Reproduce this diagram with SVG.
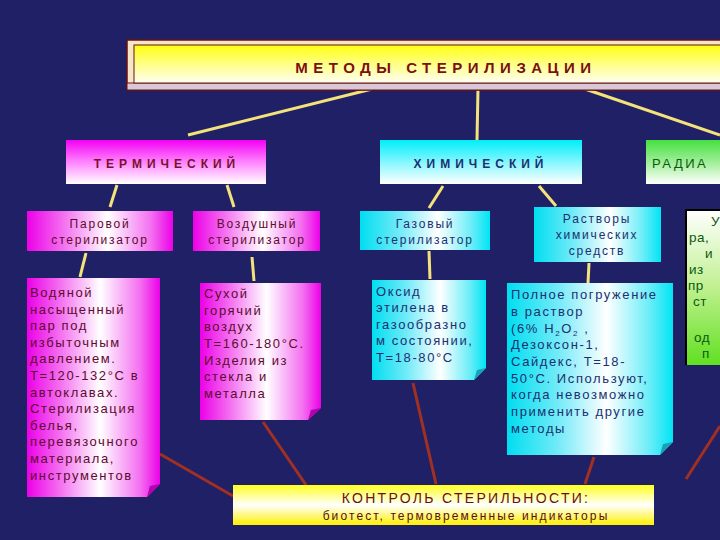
<svg xmlns="http://www.w3.org/2000/svg" width="720" height="540" viewBox="0 0 720 540">
<defs>
<linearGradient id="gTitle" x1="0" y1="0" x2="0" y2="1"><stop offset="0" stop-color="#ffff10"/><stop offset="0.55" stop-color="#ffff90"/><stop offset="1" stop-color="#fffff4"/></linearGradient>
<linearGradient id="gMagV" x1="0" y1="0" x2="0" y2="1"><stop offset="0" stop-color="#f400f4"/><stop offset="0.55" stop-color="#ff90ff"/><stop offset="1" stop-color="#ffffff"/></linearGradient>
<linearGradient id="gCyanV" x1="0" y1="0" x2="0" y2="1"><stop offset="0" stop-color="#00eef8"/><stop offset="0.55" stop-color="#90f8ff"/><stop offset="1" stop-color="#ffffff"/></linearGradient>
<linearGradient id="gGreenV" x1="0" y1="0" x2="0" y2="1"><stop offset="0" stop-color="#44e040"/><stop offset="0.55" stop-color="#a8f0a0"/><stop offset="1" stop-color="#ffffff"/></linearGradient>
<linearGradient id="gGreenRad" x1="0" y1="0" x2="0" y2="1"><stop offset="0" stop-color="#ffffff"/><stop offset="0.5" stop-color="#c0f090"/><stop offset="1" stop-color="#60e020"/></linearGradient>
<linearGradient id="gMagH" x1="0" y1="0" x2="1" y2="0"><stop offset="0" stop-color="#ec00e8"/><stop offset="0.25" stop-color="#f470f0"/><stop offset="0.55" stop-color="#ffffff"/><stop offset="0.85" stop-color="#f470f0"/><stop offset="1" stop-color="#ec00e8"/></linearGradient>
<linearGradient id="gCyanH" x1="0" y1="0" x2="1" y2="0"><stop offset="0" stop-color="#00def0"/><stop offset="0.3" stop-color="#70eaf8"/><stop offset="0.6" stop-color="#ffffff"/><stop offset="0.85" stop-color="#70eef8"/><stop offset="1" stop-color="#00e4f4"/></linearGradient>
<linearGradient id="gYellowB" x1="0" y1="0" x2="0" y2="1"><stop offset="0" stop-color="#ffff20"/><stop offset="0.5" stop-color="#ffffff"/><stop offset="1" stop-color="#fff000"/></linearGradient>
</defs>
<style>
text{font-family:"Liberation Sans",Arial,sans-serif}
.title{font-size:15px;font-weight:bold;fill:#7a1010;letter-spacing:5.5px}
.cat{font-size:12px;font-weight:bold;letter-spacing:5px}
.sub{font-size:12px;letter-spacing:1.8px}
.body{font-size:13px;letter-spacing:1.6px}
.mag{fill:#5e0a30}
.cya{fill:#1c3070}
.grn{fill:#0c5a10}
.yl{stroke:#f4e27a;stroke-width:3;fill:none}
.br{stroke:#a03022;stroke-width:3;fill:none}
.fold-m{fill:#b000b0}
.fold-c{fill:#1aa0b8}
</style>
<rect width="720" height="540" fill="#202066"/>

<g id="connectors">
<line class="yl" x1="372" y1="89" x2="188" y2="135"/>
<line class="yl" x1="478" y1="89" x2="477" y2="140"/>
<line class="yl" x1="585" y1="89" x2="720" y2="135"/>
<line class="yl" x1="117" y1="185" x2="110" y2="207"/>
<line class="yl" x1="227" y1="185" x2="234" y2="207"/>
<line class="yl" x1="443" y1="186" x2="429" y2="208"/>
<line class="yl" x1="539" y1="186" x2="556" y2="206"/>
<line class="yl" x1="86" y1="253" x2="80" y2="277"/>
<line class="yl" x1="252" y1="257" x2="254" y2="281"/>
<line class="yl" x1="429" y1="251" x2="430" y2="279"/>
<line class="yl" x1="589" y1="263" x2="588" y2="283"/>
<line class="br" x1="160" y1="454" x2="233" y2="496"/>
<line class="br" x1="263" y1="422" x2="306" y2="485"/>
<line class="br" x1="413" y1="383" x2="436" y2="484"/>
<line class="br" x1="594" y1="457" x2="585" y2="484"/>
<line class="br" x1="720" y1="426" x2="686" y2="479"/>
</g>

<g id="title">
<rect x="127" y="40" width="600" height="50" fill="#f6e6c8" stroke="#6a1010" stroke-width="1.5"/>
<rect x="127" y="83" width="600" height="7" fill="#d8c8d8" stroke="#6a1010" stroke-width="1"/>
<rect x="134" y="45" width="593" height="38" fill="url(#gTitle)" stroke="#6a1010" stroke-width="1"/>
<text class="title" x="446" y="73" text-anchor="middle">МЕТОДЫ СТЕРИЛИЗАЦИИ</text>
</g>

<g id="thermal">
<rect x="66" y="140" width="200" height="44" fill="url(#gMagV)"/>
<text class="cat mag" x="167" y="168" text-anchor="middle" style="fill:#7a1030">ТЕРМИЧЕСКИЙ</text>
</g>
<g id="chemical">
<rect x="380" y="140" width="202" height="44" fill="url(#gCyanV)"/>
<text class="cat cya" x="481" y="168" text-anchor="middle">ХИМИЧЕСКИЙ</text>
</g>
<g id="radiation">
<rect x="646" y="140" width="90" height="44" fill="url(#gGreenV)"/>
<text class="cat grn" x="652" y="168" style="font-weight:normal;font-size:13px;letter-spacing:2.5px">РАДИА</text>
</g>

<g id="steam">
<rect x="27" y="211" width="146" height="40" fill="url(#gMagH)"/>
<text class="sub mag" x="100" y="228" text-anchor="middle">Паровой</text>
<text class="sub mag" x="100" y="244" text-anchor="middle">стерилизатор</text>
</g>
<g id="air">
<rect x="193" y="211" width="127" height="40" fill="url(#gMagH)"/>
<text class="sub mag" x="257" y="228" text-anchor="middle">Воздушный</text>
<text class="sub mag" x="257" y="244" text-anchor="middle">стерилизатор</text>
</g>
<g id="gas">
<rect x="360" y="211" width="130" height="39" fill="url(#gCyanH)"/>
<text class="sub cya" x="425" y="228" text-anchor="middle">Газовый</text>
<text class="sub cya" x="425" y="244" text-anchor="middle">стерилизатор</text>
</g>
<g id="solutions">
<rect x="534" y="207" width="127" height="55" fill="url(#gCyanH)"/>
<text class="sub cya" x="597" y="223" text-anchor="middle">Растворы</text>
<text class="sub cya" x="597" y="239" text-anchor="middle">химических</text>
<text class="sub cya" x="597" y="255" text-anchor="middle">средств</text>
</g>
<g id="radiation-detail">
<rect x="686" y="210" width="50" height="155" fill="url(#gGreenRad)"/>
<path d="M686 365 V210 H720" fill="none" stroke="#000" stroke-width="2"/>
<g class="sub grn" style="font-size:13.5px;letter-spacing:0.5px">
<text x="711" y="226">У</text>
<text x="689" y="242">ра,</text>
<text x="705" y="258">и</text>
<text x="689" y="274">из</text>
<text x="688" y="290">пр</text>
<text x="693" y="306">ст</text>
<text x="694" y="342">од</text>
<text x="702" y="358">п</text>
</g>
</g>

<g id="steam-detail">
<path d="M27 278 H160 V484 L147 497 H27 Z" fill="url(#gMagH)"/>
<path d="M147 497 L160 484 L150 486 Z" class="fold-m"/>
<g class="body mag">
<text x="30" y="297">Водяной</text>
<text x="30" y="314">насыщенный</text>
<text x="30" y="330">пар под</text>
<text x="30" y="347">избыточным</text>
<text x="30" y="363">давлением.</text>
<text x="30" y="380">Т=120-132°С в</text>
<text x="30" y="397">автоклавах.</text>
<text x="30" y="413">Стерилизация</text>
<text x="30" y="430">белья,</text>
<text x="30" y="446">перевязочного</text>
<text x="30" y="463">материала,</text>
<text x="30" y="480">инструментов</text>
</g>
</g>

<g id="air-detail">
<path d="M200 283 H321 V408 L308 420 H200 Z" fill="url(#gMagH)"/>
<path d="M308 420 L321 408 L311 410 Z" class="fold-m"/>
<g class="body mag">
<text x="204" y="298">Сухой</text>
<text x="204" y="315">горячий</text>
<text x="204" y="331">воздух</text>
<text x="204" y="348">Т=160-180°С.</text>
<text x="204" y="365">Изделия из</text>
<text x="204" y="381">стекла и</text>
<text x="204" y="398">металла</text>
</g>
</g>

<g id="gas-detail">
<path d="M372 280 H486 V368 L474 380 H372 Z" fill="url(#gCyanH)"/>
<path d="M474 380 L486 368 L477 370 Z" class="fold-c"/>
<g class="body cya">
<text x="376" y="296">Оксид</text>
<text x="376" y="312">этилена в</text>
<text x="376" y="329">газообразно</text>
<text x="376" y="345">м состоянии,</text>
<text x="376" y="362">Т=18-80°С</text>
</g>
</g>

<g id="solutions-detail">
<path d="M507 283 H673 V442 L660 455 H507 Z" fill="url(#gCyanH)"/>
<path d="M660 455 L673 442 L663 444 Z" class="fold-c"/>
<g class="body cya">
<text x="511" y="299">Полное погружение</text>
<text x="511" y="316">в раствор</text>
<text x="511" y="333">(6%  H<tspan font-size="8" dy="3">2</tspan><tspan dy="-3">O</tspan><tspan font-size="8" dy="3">2</tspan><tspan dy="-3"> ,</tspan></text>
<text x="511" y="349">Дезоксон-1,</text>
<text x="511" y="366">Сайдекс, Т=18-</text>
<text x="511" y="383">50°С. Используют,</text>
<text x="511" y="399">когда невозможно</text>
<text x="511" y="416">применить другие</text>
<text x="511" y="433">методы</text>
</g>
</g>

<g id="control">
<rect x="233" y="485" width="421" height="40" fill="url(#gYellowB)"/>
<text x="466" y="503" text-anchor="middle" style="font-size:14px;letter-spacing:2.3px;fill:#6a1010">КОНТРОЛЬ СТЕРИЛЬНОСТИ:</text>
<text x="466" y="520" text-anchor="middle" style="font-size:12px;letter-spacing:2.1px;fill:#5a1010">биотест, термовременные индикаторы</text>
</g>
</svg>
